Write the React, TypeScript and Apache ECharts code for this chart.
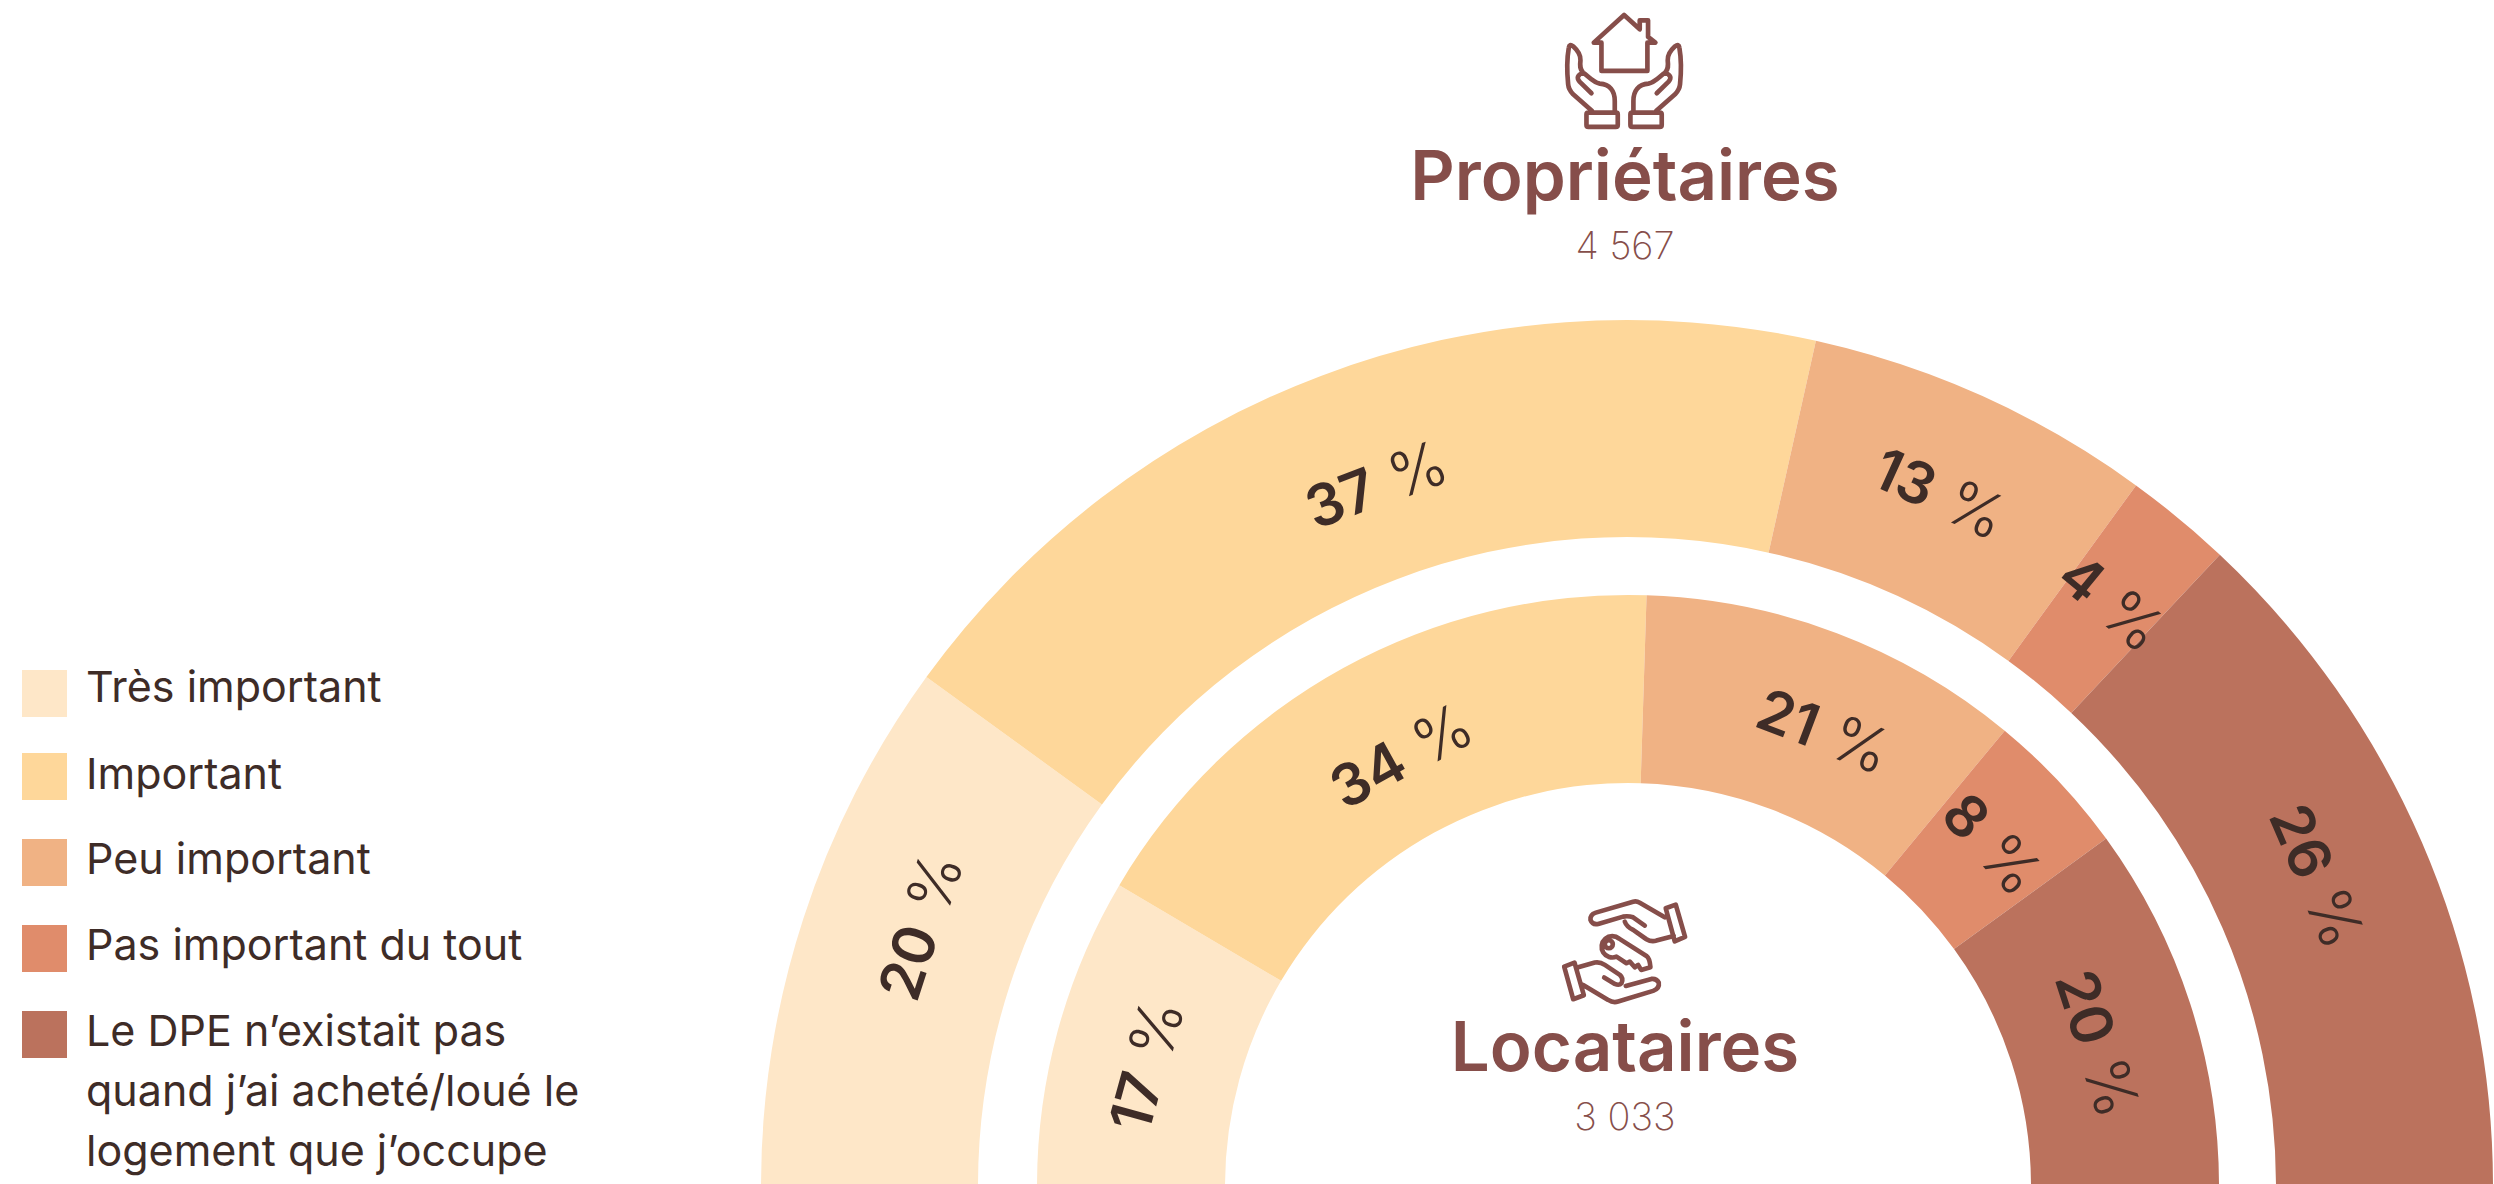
import React, { useEffect, useRef } from "react";
import * as echarts from "echarts";

const categories = ["Très important", "Important", "Peu important", "Pas important du tout", "Le DPE n’existait pas quand j’ai acheté/loué le logement que j’occupe"];
const legendLines = [["Très important"], ["Important"], ["Peu important"], ["Pas important du tout"], ["Le DPE n’existait pas", "quand j’ai acheté/loué le", "logement que j’occupe"]];
const colors = ["#FEE7C8", "#FED79A", "#F0B284", "#E08C6B", "#BB725D"];
const proprietaires = [20, 37, 13, 4, 26];
const locataires = [17, 34, 21, 8, 20];
const outerLabelNudges = [[16, -25], [18, 10], [0, 0], [0, 2], [-8, -8]];
const innerLabelNudges = [[0, 11], [14, 8], [19, 12], [0, 0], [-6, 12]];

const DARK = "#3E2C27";
const BRAND = "#864E4A";
const CX = 1625;
const CY = 1186;

const HOUSE =
  "M665 210L665 125L642 125L733 42L780 85L780 58L805 58L805 108L827 125L803 125L803 210Z " +
  "M620 340Q620 335 626 335L709 335Q714 335 714 340L714 372Q714 378 708 378L626 378Q620 378 620 372Z " +
  "M705 335L705 300C705 270 690 250 660 248C640 245 625 225 610 215C600 205 600 195 602 178C603 160 590 145 580 136C572 130 568 132 567 140C560 180 562 220 565 250C566 262 572 272 580 280L637 330 " +
  "M610 215C592 222 590 232 600 243L635 277 " +
  "M846 340Q846 335 840 335L757 335Q752 335 752 340L752 372Q752 378 758 378L840 378Q846 378 846 372Z " +
  "M761 335L761 300C761 270 776 250 806 248C826 245 841 225 856 215C866 205 866 195 864 178C863 160 876 145 886 136C894 130 898 132 899 140C906 180 904 220 901 250C900 262 894 272 886 280L829 330 " +
  "M856 215C874 222 876 232 866 243L831 277";

const KEYS =
  "M738 85L768 74L796 171L765 184Z " +
  "M735 112L660 68Q650 62 640 65L528 98Q510 104 512 120Q518 136 535 132L610 110Q625 107 640 112L675 137 " +
  "M615 125Q620 140 640 150L680 178Q695 187 710 182L762 168 " +
  "M433 260L464 248L492 346L460 358Z " +
  "M475 262L525 248Q540 245 555 255L600 285Q612 295 605 310Q598 318 585 312L553 293 " +
  "M490 315L565 360Q580 370 595 365L700 333Q720 325 717 308Q710 295 695 297L618 318 " +
  "M598 176L680 228Q690 235 692 262L664 270L655 255L645 262L630 245L620 250L590 230A32 32 0 1 1 598 176Z " +
  "M579 193A12 12 0 1 1 555 193A12 12 0 1 1 579 193Z";

echarts.graphic.registerShape("houseIcon", echarts.graphic.extendPath(HOUSE, {}));
echarts.graphic.registerShape("keysIcon", echarts.graphic.extendPath(KEYS, {}));

function pieData(values: number[]) {
  return values.map((value, i) => ({ name: categories[i], value, itemStyle: { color: colors[i] } }));
}

const label = {
  show: true,
  position: "inside",
  rotate: "tangential",
  formatter: "{n|{c}}{p|%}",
  rich: {
    n: { fontFamily: "Inter", fontSize: 58, fontWeight: 600, color: DARK },
    p: { fontFamily: "Inter", fontSize: 62, fontWeight: 300, color: DARK, padding: [0, 0, 0, 18] },
  },
};

// The layout offsets act in the rotated frame of each label, so screen nudges are turned into it.
function nudge(values: number[], table: number[][]) {
  const total = values.reduce((a, b) => a + b, 0);
  return (params: any) => {
    const i = params.dataIndex;
    const before = values.slice(0, i).reduce((a, b) => a + b, 0);
    const mid = ((before + values[i] / 2) / total) * 180;
    const theta = ((90 - mid) * Math.PI) / 180;
    const [sx, sy] = table[i];
    return { dx: sx * Math.cos(theta) - sy * Math.sin(theta), dy: sx * Math.sin(theta) + sy * Math.cos(theta) };
  };
}

function buildLegend() {
  const tops = [670, 753, 839, 925, 1011];
  const baselines = [[701], [788], [873], [959], [1045, 1105, 1165]];
  const out: any[] = [];
  categories.forEach((_, i) => {
    out.push({ type: "rect", shape: { x: 22, y: tops[i], width: 45, height: 47 }, style: { fill: colors[i] } });
    legendLines[i].forEach((line, j) => {
      out.push({
        type: "text",
        x: 86,
        y: baselines[i][j] - 15,
        style: { text: line, fontFamily: "Inter", fontSize: 43, fontWeight: 400, fill: DARK, verticalAlign: "middle" },
      });
    });
  });
  return out;
}

function centerText(text: string, y: number, fontSize: number, fontWeight: number, font: string) {
  return { type: "text", x: CX, y, style: { text, fontFamily: font, fontSize, fontWeight, fill: BRAND, align: "center", verticalAlign: "middle" } };
}

export default function App() {
  const ref = useRef<HTMLDivElement>(null);
  useEffect(() => {
    const chart = echarts.init(ref.current!, null, { renderer: "svg" });
    chart.setOption({
      animation: false,
      backgroundColor: "#ffffff",
      series: [
        { type: "pie", name: "Propriétaires", center: [1627, CY], radius: [649, 866], startAngle: 180, endAngle: 0, data: pieData(proprietaires), label, labelLayout: nudge(proprietaires, outerLabelNudges), labelLine: { show: false }, avoidLabelOverlap: false, emphasis: { disabled: true } },
        { type: "pie", name: "Locataires", center: [1628, CY], radius: [403, 591], startAngle: 180, endAngle: 0, data: pieData(locataires), label, labelLayout: nudge(locataires, innerLabelNudges), labelLine: { show: false }, avoidLabelOverlap: false, emphasis: { disabled: true } },
      ],
      graphic: [
        ...buildLegend(),
        { type: "houseIcon", x: 1380, y: 1, scaleX: 1 / 3, scaleY: 1 / 3, style: { fill: "none", stroke: BRAND, lineWidth: 14, lineJoin: "round", lineCap: "round" } },
        { type: "keysIcon", x: 1420, y: 880, scaleX: 1 / 3, scaleY: 1 / 3, style: { fill: "none", stroke: BRAND, lineWidth: 14, lineJoin: "round", lineCap: "round" } },
        centerText("Propriétaires", 175, 69, 600, "Inter"),
        centerText("4 567", 245, 38, 200, "Inter"),
        centerText("Locataires", 1046, 69, 600, "Inter"),
        centerText("3 033", 1116, 38, 200, "Inter"),
      ],
    });
    return () => chart.dispose();
  }, []);
  return <div ref={ref} style={{ position: "absolute", left: 0, top: 0, width: 2494, height: 1184 }} />;
}
